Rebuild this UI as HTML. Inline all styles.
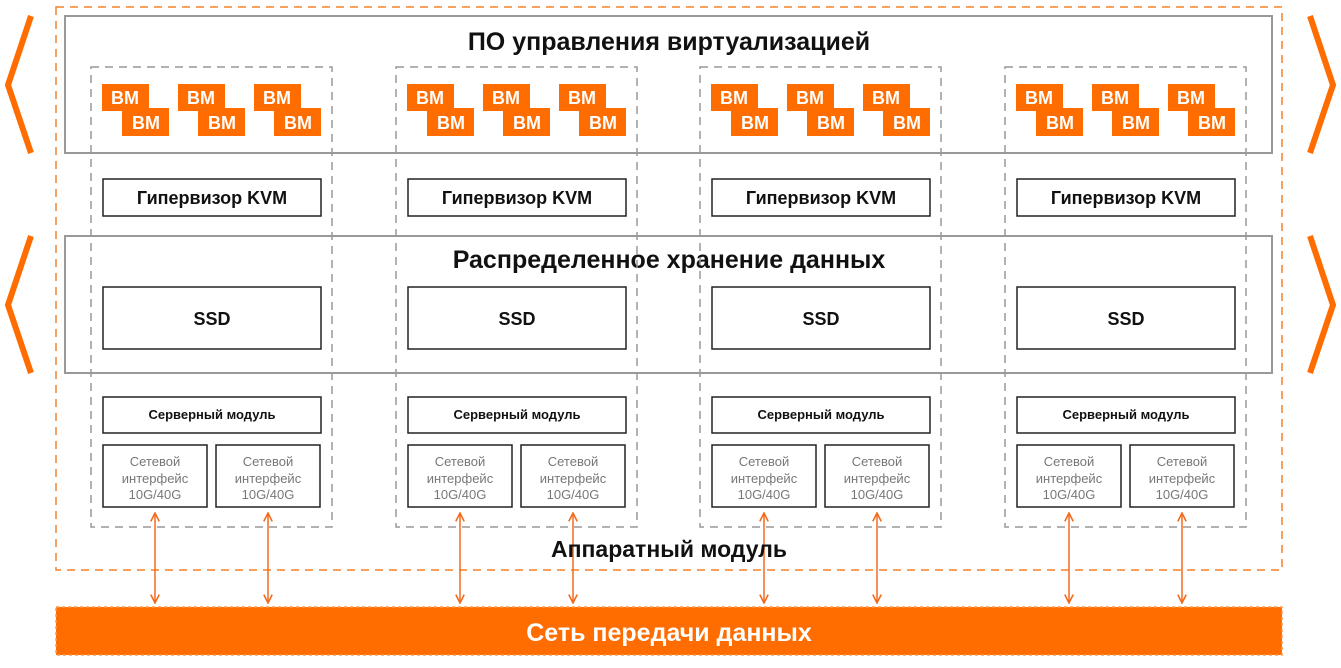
<!DOCTYPE html>
<html><head><meta charset="utf-8"><style>
body{margin:0;width:1341px;height:663px;background:#fff;overflow:hidden;font-family:"Liberation Sans","DejaVu Sans",sans-serif}
</style></head><body>
<svg width="1341" height="663" viewBox="0 0 1341 663" xmlns="http://www.w3.org/2000/svg" font-family="Liberation Sans, DejaVu Sans, sans-serif">
<defs>
<marker id="a" viewBox="0 0 10 10" refX="9" refY="5" markerWidth="7" markerHeight="7" orient="auto-start-reverse"><path d="M1 1L9 5L1 9" fill="none" stroke="#f26b1d" stroke-width="1.5"/></marker>
<g id="vm">
<rect x="0" y="0" width="47" height="27" fill="#ff6c00"/>
<rect x="20" y="24" width="47" height="28" fill="#ff6c00"/>
<text x="23" y="20" fill="#fff" font-size="18" font-weight="bold" text-anchor="middle">ВМ</text>
<text x="44" y="45" fill="#fff" font-size="18" font-weight="bold" text-anchor="middle">ВМ</text>
</g>
<g id="col">
<rect x="91" y="67" width="241" height="460" fill="none" stroke="#999" stroke-width="1.5" stroke-dasharray="8,6"/>
<use href="#vm" x="102" y="84"/><use href="#vm" x="178" y="84"/><use href="#vm" x="254" y="84"/>
<rect x="103" y="179" width="218" height="37" fill="#fff" stroke="#222" stroke-width="1.5"/>
<text x="212" y="204" font-size="18" font-weight="bold" text-anchor="middle" fill="#111">Гипервизор KVM</text>
<rect x="103" y="287" width="218" height="62" fill="#fff" stroke="#222" stroke-width="1.5"/>
<text x="212" y="325" font-size="18" font-weight="bold" text-anchor="middle" fill="#111">SSD</text>
<rect x="103" y="397" width="218" height="36" fill="#fff" stroke="#222" stroke-width="1.5"/>
<text x="212" y="419" font-size="13" font-weight="bold" text-anchor="middle" fill="#111">Серверный модуль</text>
<rect x="103" y="445" width="104" height="62" fill="#fff" stroke="#222" stroke-width="1.5"/>
<rect x="216" y="445" width="104" height="62" fill="#fff" stroke="#222" stroke-width="1.5"/>
<g font-size="13" fill="#777" text-anchor="middle">
<text x="155" y="466">Сетевой</text><text x="155" y="483">интерфейс</text><text x="155" y="499">10G/40G</text>
<text x="268" y="466">Сетевой</text><text x="268" y="483">интерфейс</text><text x="268" y="499">10G/40G</text>
</g>
<line x1="155" y1="513" x2="155" y2="603" stroke="#f26b1d" stroke-width="1.5" marker-start="url(#a)" marker-end="url(#a)"/>
<line x1="268" y1="513" x2="268" y2="603" stroke="#f26b1d" stroke-width="1.5" marker-start="url(#a)" marker-end="url(#a)"/>
</g>
</defs>
<rect x="56" y="7" width="1226" height="563" fill="none" stroke="#f7802a" stroke-width="1.5" stroke-dasharray="8,6"/>
<rect x="65" y="16" width="1207" height="137" fill="none" stroke="#999" stroke-width="2"/>
<rect x="65" y="236" width="1207" height="137" fill="none" stroke="#999" stroke-width="2"/>
<text x="669" y="50" font-size="25" font-weight="bold" text-anchor="middle" fill="#111">ПО управления виртуализацией</text>
<text x="669" y="268" font-size="25" font-weight="bold" text-anchor="middle" fill="#111">Распределенное хранение данных</text>
<use href="#col"/>
<use href="#col" x="305"/>
<use href="#col" x="609"/>
<use href="#col" x="914"/>
<text x="669" y="557" font-size="23" font-weight="bold" text-anchor="middle" fill="#111">Аппаратный модуль</text>
<rect x="56" y="607" width="1226" height="48" fill="#ff6c00" stroke="#ff9a50" stroke-width="1.5" stroke-dasharray="3,3"/>
<text x="669" y="641" font-size="25" font-weight="bold" text-anchor="middle" fill="#fff">Сеть передачи данных</text>
<g fill="none" stroke="#ff6c00" stroke-width="6">
<path d="M31 16L8 85L31 153"/><path d="M31 236L8 305L31 373"/>
<path d="M1310 16L1333 85L1310 153"/><path d="M1310 236L1333 305L1310 373"/>
</g>
</svg>
</body></html>
